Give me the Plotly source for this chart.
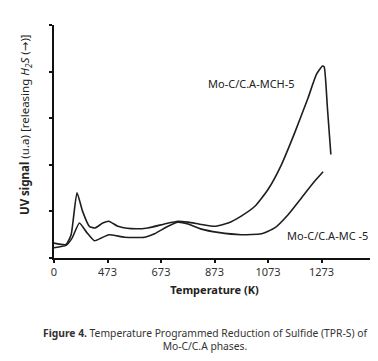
import plotly.graph_objects as go

# Tick layout (broken scale: "0" sits one step before 473)
tick_vals = [273, 473, 673, 873, 1073, 1273, 1473]
tick_text = ["0", "473", "673", "873", "1073", "1273", "1473"]

# Mo-C/C.A-MCH-5 (upper curve)
mch_T = [273, 318, 337, 359, 380, 405, 427, 455, 478, 512, 561, 624, 686, 736, 774,
         824, 874, 924, 973, 1024, 1073, 1123, 1173, 1223, 1254, 1277, 1283, 1295, 1308]
mch_y = [0.32, 0.29, 0.50, 1.40, 1.00, 0.68, 0.645, 0.75, 0.79, 0.68, 0.63, 0.645, 0.73, 0.79, 0.77,
         0.72, 0.68, 0.75, 0.90, 1.11, 1.47, 2.00, 2.69, 3.44, 3.94, 4.12, 4.10, 3.23, 2.22]

# Mo-C/C.A-MC-5 (lower curve)
mc_T = [273, 318, 340, 368, 395, 424, 450, 478, 537, 612, 649, 699, 736, 774, 824,
        886, 973, 1048, 1098, 1148, 1198, 1248, 1279]
mc_y = [0.22, 0.27, 0.42, 0.75, 0.55, 0.37, 0.43, 0.50, 0.445, 0.445, 0.52, 0.68, 0.77, 0.73, 0.62,
        0.55, 0.50, 0.52, 0.645, 0.93, 1.29, 1.65, 1.85]

line_col = "#1e1e1e"
fig = go.Figure()
fig.add_trace(go.Scatter(x=mch_T, y=mch_y, mode="lines",
                         line=dict(color=line_col, width=1.6, shape="spline", smoothing=0.5),
                         showlegend=False, hoverinfo="skip"))
fig.add_trace(go.Scatter(x=mc_T, y=mc_y, mode="lines",
                         line=dict(color=line_col, width=1.6, shape="spline", smoothing=0.5),
                         showlegend=False, hoverinfo="skip"))

font_family = "'Noto Sans', 'DejaVu Sans', sans-serif"

fig.add_annotation(x=1010, y=3.74, text="Mo-C/C.A-MCH-5", showarrow=False,
                   xanchor="center", font=dict(family=font_family, size=11, color="#222"))
fig.add_annotation(x=1294, y=0.48, text="Mo-C/C.A-MC -5", showarrow=False,
                   xanchor="center", font=dict(family=font_family, size=11, color="#222"))

# y-axis title (placed as annotation to match the reference's vertical position)
fig.add_annotation(xref="paper", yref="paper", x=-0.09, y=0.571, xanchor="center", yanchor="middle",
                   textangle=-90, showarrow=False,
                   text="<b>UV signal</b> (u.a) [releasing <i>H<sub>2</sub>S</i> (→)]",
                   font=dict(family=font_family, size=11.5, color="#222"))

fig.add_annotation(xref="paper", yref="paper", x=0.47, y=-0.285, xanchor="center", yanchor="top",
                   text="<b>Figure 4.</b> Temperature Programmed Reduction of Sulfide (TPR-S) of<br>Mo-C/C.A phases.",
                   showarrow=False, align="center",
                   font=dict(family=font_family, size=10.3, color="#333"))

fig.update_layout(
    width=378, height=361,
    margin=dict(l=46, r=11, t=17, b=111),
    paper_bgcolor="white", plot_bgcolor="white",
    font=dict(family=font_family, color="#333"),
    xaxis=dict(range=[273, 1473], tickvals=tick_vals, ticktext=tick_text,
               showline=True, linecolor="#111", linewidth=1.5, showgrid=False, zeroline=False,
               ticks="outside", ticklen=3, tickwidth=1.5, tickcolor="#111",
               tickfont=dict(size=11, color="#333"),
               title=dict(text="<b>Temperature (K)</b>", font=dict(size=11, color="#222"), standoff=8)),
    yaxis=dict(range=[0, 5], tickvals=[0, 1, 2, 3, 4, 5], showticklabels=False,
               showline=True, linecolor="#111", linewidth=2, showgrid=False, zeroline=False,
               ticks="outside", ticklen=3, tickwidth=1.5, tickcolor="#111"),
)

fig.write_html("out.html")
